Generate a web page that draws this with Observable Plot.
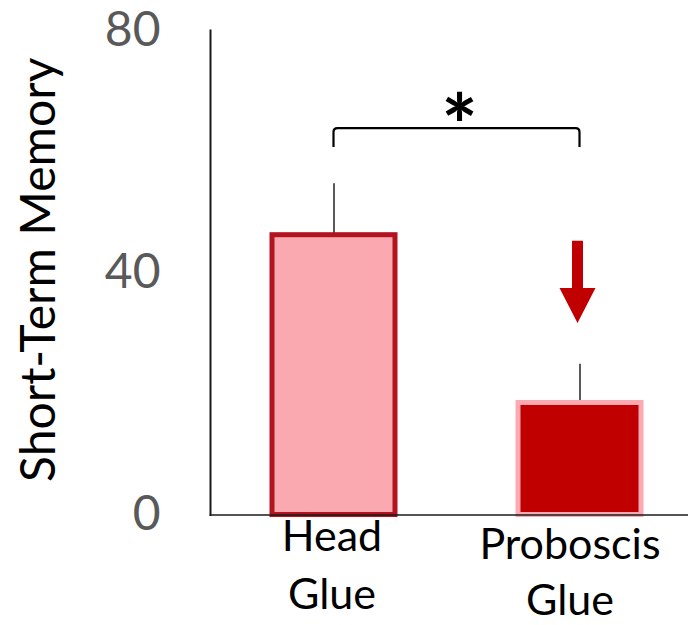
<!DOCTYPE html>
<html>
<head>
<meta charset="utf-8">
<script src="https://cdn.jsdelivr.net/npm/d3@7"></script>
<script src="https://cdn.jsdelivr.net/npm/@observablehq/plot@0.6"></script>
<style>
  html, body { margin: 0; padding: 0; background: #fff; }
  #chart svg { display: block; }
</style>
</head>
<body>
<div id="chart"></div>
<script>
// Short-term memory by glue placement
const groups = ["Head Glue", "Proboscis Glue"];
const groupLabels = ["Head\nGlue", "Proboscis\nGlue"];
const means = [46.2, 18.5];
const upperErrors = [54.7, 24.9];
const barFills = ["#fba9b0", "#c00000"];
const barStrokes = ["#b3121f", "#fbaab1"];
const yTicks = [0, 40, 80];
const yTitle = "Short-Term Memory";

// significance bracket and the "decrease" arrow (in data units)
const significance = "*";
const bracketLevel = 63.8;
const bracketDrop = 3.1;
const arrowTop = 45.2;
const arrowHeadBase = 37.4;
const arrowTip = 31.6;

const rows = groups.map((g, i) => ({
  group: g,
  label: groupLabels[i],
  mean: means[i],
  upper: upperErrors[i],
  fill: barFills[i],
  stroke: barStrokes[i]
}));

const FONT = "Lato, 'Open Sans', sans-serif";

// bracket, asterisk and arrow drawn with the plot's own scales
function annotations(index, scales) {
  const {x, y} = scales;
  const bw = typeof x.bandwidth === "function" ? x.bandwidth() : 0;
  const cx = (g) => x(g) + bw / 2;
  const x1 = cx(groups[0]), x2 = cx(groups[1]);
  const yTop = y(bracketLevel), yLow = y(bracketLevel - bracketDrop);
  const r = 4;
  const g = d3.create("svg:g");
  g.append("path")
    .attr("d", `M${x1},${yLow}L${x1},${yTop + r}Q${x1},${yTop} ${x1 + r},${yTop}` +
               `L${x2 - r},${yTop}Q${x2},${yTop} ${x2},${yTop + r}L${x2},${yLow}`)
    .attr("fill", "none")
    .attr("stroke", "#000")
    .attr("stroke-width", 2.2);
  g.append("text")
    .attr("x", (x1 + x2) / 2 + 3)
    .attr("y", yTop + 29)
    .attr("text-anchor", "middle")
    .attr("font-family", FONT)
    .attr("font-weight", "bold")
    .attr("font-size", 86)
    .attr("fill", "#000")
    .text(significance);
  const ax = x2 - 2, sw = 5.5, hw = 18;
  const ya = y(arrowTop), yb = y(arrowHeadBase), yt = y(arrowTip);
  g.append("path")
    .attr("d", `M${ax - sw},${ya}L${ax + sw},${ya}L${ax + sw},${yb}L${ax + hw},${yb}` +
               `L${ax},${yt}L${ax - hw},${yb}L${ax - sw},${yb}Z`)
    .attr("fill", "#c00000");
  return g.node();
}

const chart = Plot.plot({
  width: 688,
  height: 625,
  marginLeft: 210,
  marginRight: 0,
  marginTop: 30,
  marginBottom: 110.5,
  style: {background: "#fff", fontFamily: FONT, overflow: "visible"},
  x: {domain: groups, range: [148.5, 763.5], padding: 0.5, axis: null},
  y: {domain: [0, 80], ticks: yTicks, axis: null},
  color: {type: "identity"},
  marks: [
    Plot.axisY(yTicks, {
      tickSize: 0,
      tickPadding: 50,
      fontSize: 48,
      fill: "#595959",
      label: null
    }),
    Plot.ruleX(rows, {x: "group", y1: "mean", y2: "upper", stroke: "#595959", strokeWidth: 2}),
    Plot.barY(rows, {x: "group", y: "mean", fill: "fill", stroke: "stroke", strokeWidth: 5}),
    Plot.frame({anchor: "left", stroke: "#1a1a1a", strokeWidth: 2}),
    Plot.frame({anchor: "bottom", stroke: "#1a1a1a", strokeWidth: 1.6}),
    Plot.text(rows.slice(0, 1), {
      x: "group", text: "label", frameAnchor: "bottom", lineAnchor: "top",
      dy: -5.5, dx: -2, fontSize: 43, lineHeight: 1.35, fill: "#000"
    }),
    Plot.text(rows.slice(1), {
      x: "group", text: "label", frameAnchor: "bottom", lineAnchor: "top",
      dy: 4.5, dx: -10, fontSize: 43, lineHeight: 1.3, fill: "#000"
    }),
    Plot.text([yTitle], {
      text: (d) => d, frameAnchor: "left", rotate: -90, lineAnchor: "bottom",
      textAnchor: "middle", dx: -156, dy: -3, fontSize: 48, fill: "#000"
    }),
    annotations
  ]
});

document.getElementById("chart").append(chart);
</script>
</body>
</html>
